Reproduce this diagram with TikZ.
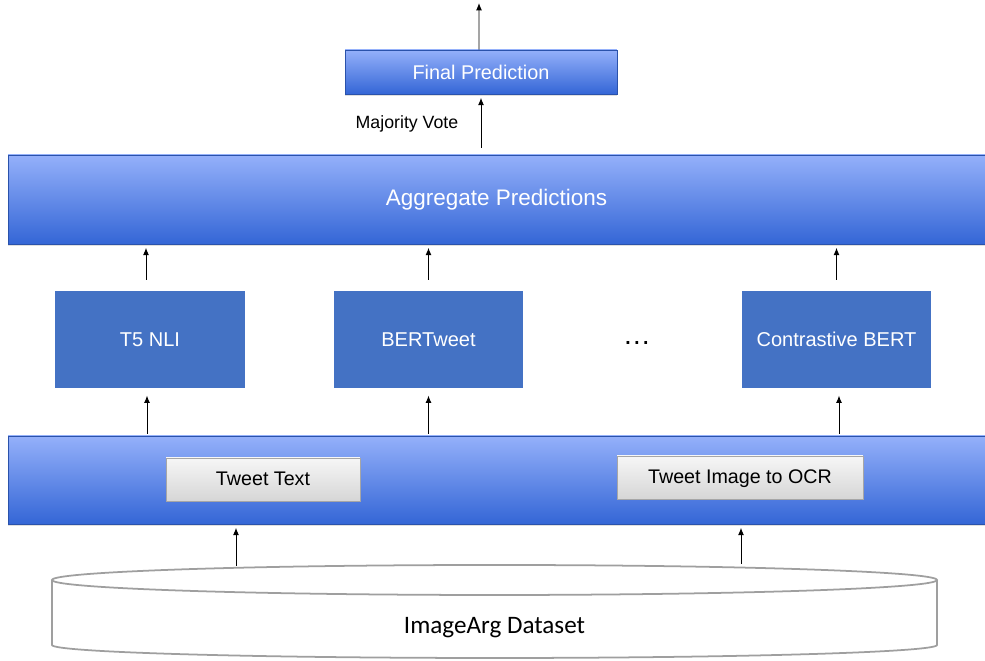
\documentclass[tikz,border=0pt]{standalone}
\usepackage{fontspec}
\setmainfont{Liberation Sans}
\newfontfamily\dbfont{Carlito}
\usepackage{tikz}
\usetikzlibrary{arrows.meta, positioning, shadows}

\definecolor{bandtop}{RGB}{148,176,250}
\definecolor{bandbot}{RGB}{52,102,214}
\definecolor{modelblue}{RGB}{68,114,196}
\definecolor{keytop}{RGB}{246,246,246}
\definecolor{keybot}{RGB}{214,214,214}

\begin{document}
\begin{tikzpicture}[
    x=0.02cm, y=0.02cm,
    band/.style={rectangle, draw=bandbot!80!black, line width=0.3pt, top color=bandtop, bottom color=bandbot, text=white, align=center, drop shadow={shadow xshift=0pt, shadow yshift=-1pt, opacity=0.25}},
    modelbox/.style={rectangle, fill=modelblue, draw=white, line width=1.5pt, minimum width=3.84cm, minimum height=1.98cm, text=white, font=\fontsize{11.4}{13}\selectfont, drop shadow={shadow xshift=0.8pt, shadow yshift=-0.8pt, opacity=0.3}},
    inputbox/.style={rectangle, draw=gray!70, line width=0.3pt, top color=keytop, bottom color=keybot, minimum height=0.86cm, text height=1.6ex, text depth=0.4ex, font=\fontsize{11.2}{13}\selectfont, drop shadow={shadow xshift=0.5pt, shadow yshift=-0.8pt, opacity=0.3}},
    arrow/.style={-{Latex[length=4.2pt, width=3.4pt]}, line width=0.55pt, black},
    votelabel/.style={font=\fontsize{10.1}{12}\selectfont},
    cyl/.style={draw=gray!75, line width=1pt, fill=white}
]
\useasboundingbox (0,0) rectangle (985,661);

% Dataset cylinder (bottom)
\draw[cyl] (52,81) -- (52,16) arc[start angle=180, end angle=360, x radius=442.5, y radius=13] -- (937,81);
\draw[cyl] (494.5,81) ellipse[x radius=442.5, y radius=15];
\node[font=\dbfont\fontsize{14.3}{16}\selectfont] (dataset) at (494.5,33) {ImageArg Dataset};
\coordinate (src1) at (236,95);
\coordinate (src2) at (741,97);

% Input band
\node[band, minimum width=19.54cm, minimum height=1.76cm] (inband) at (496.5,181) {};
\node[inputbox, minimum width=3.88cm] (tweettext) at (263,181.5) {Tweet Text};
\node[inputbox, minimum width=4.92cm] (tweetimg) at (740,183.5) {Tweet Image to OCR};

% Models
\node[modelbox] (t5) at (150,321.5) {T5 NLI};
\node[modelbox] (bertweet) at (428.5,321.5) {BERTweet};
\node[modelbox] (contrast) at (836.5,321.5) {Contrastive BERT};
\node[font=\fontsize{16}{18}\selectfont] (dots) at (637,318) {\dots};

% Aggregation and output
\node[band, minimum width=19.54cm, minimum height=1.78cm, font=\fontsize{12.8}{15}\selectfont] (agg) at (496.5,461.5) {Aggregate Predictions};
\node[band, minimum width=5.44cm, minimum height=0.88cm, font=\fontsize{11.3}{13}\selectfont] (final) at (481,589) {Final Prediction};
\coordinate (out) at (479,658);

% Dataset to inputs
\draw[arrow, shorten >=2pt] (src1) -- (src1 |- inband.south);
\draw[arrow, shorten >=2pt] (src2) -- (src2 |- inband.south);

% Inputs to models
\draw[arrow, shorten <=1pt, shorten >=3pt] ([xshift=-0.06cm]t5.south |- inband.north) -- ([xshift=-0.06cm]t5.south);
\draw[arrow, shorten <=1pt, shorten >=3pt] (bertweet.south |- inband.north) -- (bertweet.south);
\draw[arrow, shorten <=1pt, shorten >=3pt] ([xshift=0.05cm]contrast.south |- inband.north) -- ([xshift=0.05cm]contrast.south);

% Models to aggregation
\draw[arrow, shorten <=5pt, shorten >=2pt] ([xshift=-0.08cm]t5.north) -- ([xshift=-0.08cm]t5.north |- agg.south);
\draw[arrow, shorten <=5pt, shorten >=2pt] (bertweet.north) -- (bertweet.north |- agg.south);
\draw[arrow, shorten <=5pt, shorten >=2pt] (contrast.north) -- (contrast.north |- agg.south);

% Majority vote and output
\draw[arrow, shorten <=4pt, shorten >=2pt] (final.south |- agg.north) -- (final.south);
\node[votelabel] (vote) at (407,537) {Majority Vote};
\draw[arrow] ([xshift=-0.04cm]final.north) -- (out);

\end{tikzpicture}
\end{document}
